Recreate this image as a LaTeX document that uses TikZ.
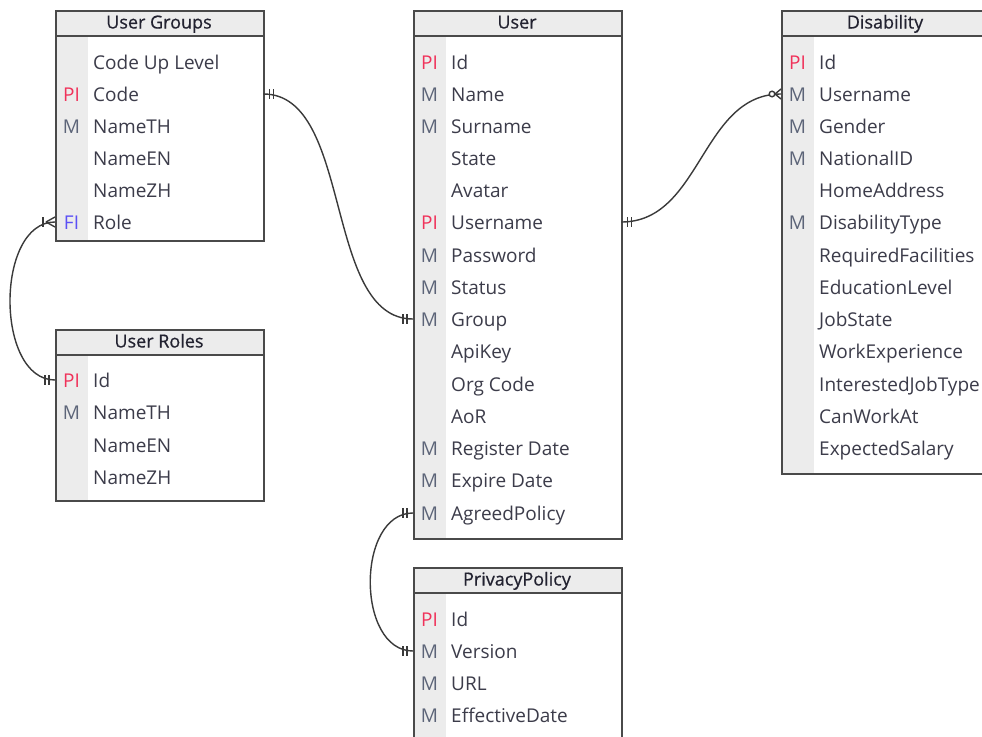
\documentclass[tikz,border=0pt]{standalone}
\usepackage{fontspec}
\setmainfont{Open Sans}
\newfontfamily\erheadfamily[FakeBold=0.6]{Open Sans}
\definecolor{boxline}{HTML}{4A4A4A}
\definecolor{headgray}{HTML}{ECECEC}
\definecolor{keygray}{HTML}{ECECEC}
\definecolor{fieldcol}{HTML}{3C3C4A}
\definecolor{headcol}{HTML}{222230}
\definecolor{keyM}{HTML}{5C6478}
\definecolor{keyPI}{HTML}{F0325A}
\definecolor{keyFI}{HTML}{5B50F5}
\definecolor{linkcol}{HTML}{3A3A3A}
\newcommand\erfieldfont{\fontsize{19}{22}\selectfont}
\newcommand\erheadfont{\erheadfamily\fontsize{18}{21}\selectfont}

% table frame: #1 name, #2 left x, #3 top y, #4 bottom y, #5 title
\newcommand\ertable[5]{%
  \fill[white] (#2,#3) rectangle (#2+208,#4);
  \fill[keygray] (#2,#3) rectangle (#2+33,#4);
  \fill[headgray] (#2,#3) rectangle (#2+208,#3+26);
  \draw[tablebox] (#2,#3+26) -- (#2+208,#3+26);
  \node[tablebox,rectangle,minimum width=208pt,minimum height=#4-#3,
        anchor=north west,inner sep=0pt] (#1) at (#2,#3) {};
  \node[anchor=base,inner sep=0pt,font=\erheadfont,text=headcol]
        (#1-title) at (#2+104,#3+18.5) {#5};
}
% table row: #1 row name, #2 table left x, #3 row centre y, #4 key colour, #5 key, #6 field
\newcommand\erfield[6]{%
  \node[rowbox] (#1) at (#2,#3) {};
  \node[keytext,text=#4] (#1-key) at (#2+16.5,#3+7.5) {#5};
  \node[fieldtext] (#1-name) at (#2+38,#3+7.5) {#6};
}
% mandatory one: two bars, #2 = +1 (to the right) or -1 (to the left)
\newcommand\ermandone[2]{%
  \draw[link] ([xshift=#2*6pt]#1) ++(0,-5) -- ++(0,10);
  \draw[link] ([xshift=#2*10pt]#1) ++(0,-5) -- ++(0,10);
}
% one or many, end on the left side of a table
\newcommand\eronemany[1]{%
  \draw[link] ([xshift=-9pt]#1) -- ([yshift=5pt]#1);
  \draw[link] ([xshift=-9pt]#1) -- ([yshift=-5pt]#1);
  \draw[link] ([xshift=-12pt]#1) ++(0,-5) -- ++(0,10);
}
% zero or many, end on the left side of a table
\newcommand\erzeromany[1]{%
  \draw[link] ([xshift=-6pt]#1) -- ([yshift=5pt]#1);
  \draw[link] ([xshift=-6pt]#1) -- ([yshift=-5pt]#1);
  \draw[link,fill=white] ([xshift=-9pt]#1) circle (2.8pt);
}

\begin{document}
\begin{tikzpicture}[x=1pt,y=-1pt,
  tablebox/.style={draw=boxline,line width=1.6pt},
  rowbox/.style={rectangle,minimum width=208pt,minimum height=32pt,inner sep=0pt,anchor=west},
  keytext/.style={anchor=base,inner sep=0pt,font=\erfieldfont},
  fieldtext/.style={anchor=base west,inner sep=0pt,font=\erfieldfont,text=fieldcol},
  link/.style={draw=linkcol,line width=1.4pt}]
\useasboundingbox (0,0) rectangle (982,736);
\clip (0,0) rectangle (982,736);
\fill[white] (0,0) rectangle (982,736);

% ---- User Groups
\ertable{ug}{55}{10}{240}{User Groups}
\erfield{ugcul}{55}{62}{keyM}{}{Code Up Level}
\erfield{ugcode}{55}{94}{keyPI}{PI}{Code}
\erfield{ugnth}{55}{126}{keyM}{M}{NameTH}
\erfield{ugnen}{55}{158}{keyM}{}{NameEN}
\erfield{ugnzh}{55}{190}{keyM}{}{NameZH}
\erfield{ugrole}{55}{222}{keyFI}{FI}{Role}

% ---- User Roles
\ertable{ur}{55}{329}{500}{User Roles}
\erfield{urid}{55}{380}{keyPI}{PI}{Id}
\erfield{urnth}{55}{412}{keyM}{M}{NameTH}
\erfield{urnen}{55}{445}{keyM}{}{NameEN}
\erfield{urnzh}{55}{477}{keyM}{}{NameZH}

% ---- User
\ertable{us}{413}{10}{538}{User}
\erfield{usid}{413}{62}{keyPI}{PI}{Id}
\erfield{usname}{413}{94}{keyM}{M}{Name}
\erfield{ussur}{413}{126}{keyM}{M}{Surname}
\erfield{usstate}{413}{158}{keyM}{}{State}
\erfield{usavatar}{413}{190}{keyM}{}{Avatar}
\erfield{ususer}{413}{222}{keyPI}{PI}{Username}
\erfield{uspass}{413}{255}{keyM}{M}{Password}
\erfield{usstatus}{413}{287}{keyM}{M}{Status}
\erfield{usgroup}{413}{319}{keyM}{M}{Group}
\erfield{usapi}{413}{351}{keyM}{}{ApiKey}
\erfield{usorg}{413}{384}{keyM}{}{Org Code}
\erfield{usaor}{413}{416}{keyM}{}{AoR}
\erfield{usreg}{413}{448}{keyM}{M}{Register Date}
\erfield{usexp}{413}{480}{keyM}{M}{Expire Date}
\erfield{usagreed}{413}{513}{keyM}{M}{AgreedPolicy}

% ---- PrivacyPolicy
\ertable{pp}{413}{567}{760}{PrivacyPolicy}
\erfield{ppid}{413}{619}{keyPI}{PI}{Id}
\erfield{ppver}{413}{651}{keyM}{M}{Version}
\erfield{ppurl}{413}{683}{keyM}{M}{URL}
\erfield{ppdate}{413}{715}{keyM}{M}{EffectiveDate}

% ---- Disability
\ertable{ds}{781}{10}{473}{Disability}
\erfield{dsid}{781}{62}{keyPI}{PI}{Id}
\erfield{dsuser}{781}{94}{keyM}{M}{Username}
\erfield{dsgender}{781}{126}{keyM}{M}{Gender}
\erfield{dsnat}{781}{158}{keyM}{M}{NationalID}
\erfield{dshome}{781}{190}{keyM}{}{HomeAddress}
\erfield{dstype}{781}{222}{keyM}{M}{DisabilityType}
\erfield{dsreq}{781}{255}{keyM}{}{RequiredFacilities}
\erfield{dsedu}{781}{287}{keyM}{}{EducationLevel}
\erfield{dsjob}{781}{319}{keyM}{}{JobState}
\erfield{dswork}{781}{351}{keyM}{}{WorkExperience}
\erfield{dsint}{781}{384}{keyM}{}{InterestedJobType}
\erfield{dscan}{781}{416}{keyM}{}{CanWorkAt}
\erfield{dssal}{781}{448}{keyM}{}{ExpectedSalary}

% ---- relationships
\draw[link] (ugcode.east) .. controls +(90,0) and +(-90,0) .. (usgroup.west);
\ermandone{ugcode.east}{1}
\ermandone{usgroup.west}{-1}

\draw[link] (ugrole.west) .. controls +(-60,0) and +(-60,0) .. (urid.west);
\eronemany{ugrole.west}
\ermandone{urid.west}{-1}

\draw[link] (ususer.east) .. controls +(80,0) and +(-80,0) .. (dsuser.west);
\ermandone{ususer.east}{1}
\erzeromany{dsuser.west}

\draw[link] (usagreed.west) .. controls +(-57,0) and +(-57,0) .. (ppver.west);
\ermandone{usagreed.west}{-1}
\ermandone{ppver.west}{-1}
\end{tikzpicture}
\end{document}
